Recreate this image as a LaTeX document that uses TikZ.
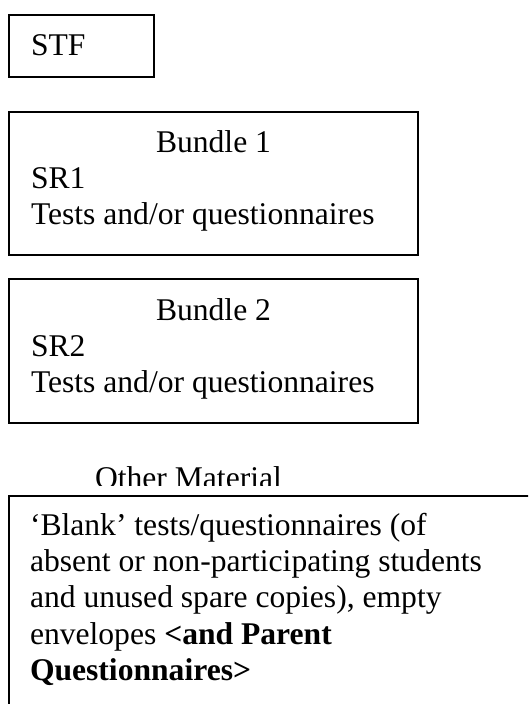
\documentclass[tikz,border=0pt]{standalone}
\usepackage{fontspec}
\setmainfont{Liberation Serif}
\newcommand\mainfnt{\fontsize{31.6pt}{36.4pt}\selectfont}
\tikzset{
  box/.style={draw=black, line width=1.6pt, inner sep=0pt, outer sep=0pt, anchor=north west},
  txt/.style={inner sep=0pt, outer sep=0pt, font=\mainfnt, anchor=base west},
  ctxt/.style={inner sep=0pt, outer sep=0pt, font=\mainfnt, anchor=base},
}
\begin{document}
\begin{tikzpicture}[x=1pt, y=-1pt]
\clip (0,0) rectangle (528,704);
\fill[white] (0,0) rectangle (528,704);
% boxes
\node[box, minimum width=145pt, minimum height=62pt] (stf) at (9,15) {};
\node[box, minimum width=409pt, minimum height=143pt] (b1) at (9,112) {};
\node[box, minimum width=409pt, minimum height=144pt] (b2) at (9,279) {};
\node[box, minimum width=540pt, minimum height=240pt] (other) at (9,496) {};
% texts
\node[txt] (stftext) at (31,55) {STF};
\node[ctxt] (b1title) at (213.5,152) {Bundle 1};
\node[txt] (b1sr) at (31,188) {SR1};
\node[txt] (b1tests) at (31,224.4) {Tests and/or questionnaires};
\node[ctxt] (b2title) at (213.5,320) {Bundle 2};
\node[txt] (b2sr) at (31,356) {SR2};
\node[txt] (b2tests) at (31,392.4) {Tests and/or questionnaires};
\begin{scope}
\clip (0,0) rectangle (528,485);
\node[txt] (othertitle) at (95,488) {Other Material};
\end{scope}
\node[txt] (o1) at (30,535) {‘Blank’ tests/questionnaires (of};
\node[txt] (o2) at (30,571.4) {absent or non-participating students};
\node[txt] (o3) at (30,607.8) {and unused spare copies), empty};
\node[txt] (o4) at (30,644.2) {envelopes \textbf{<and Parent}};
\node[txt] (o5) at (30,680.6) {\textbf{Questionnaires>}};
\end{tikzpicture}
\end{document}
